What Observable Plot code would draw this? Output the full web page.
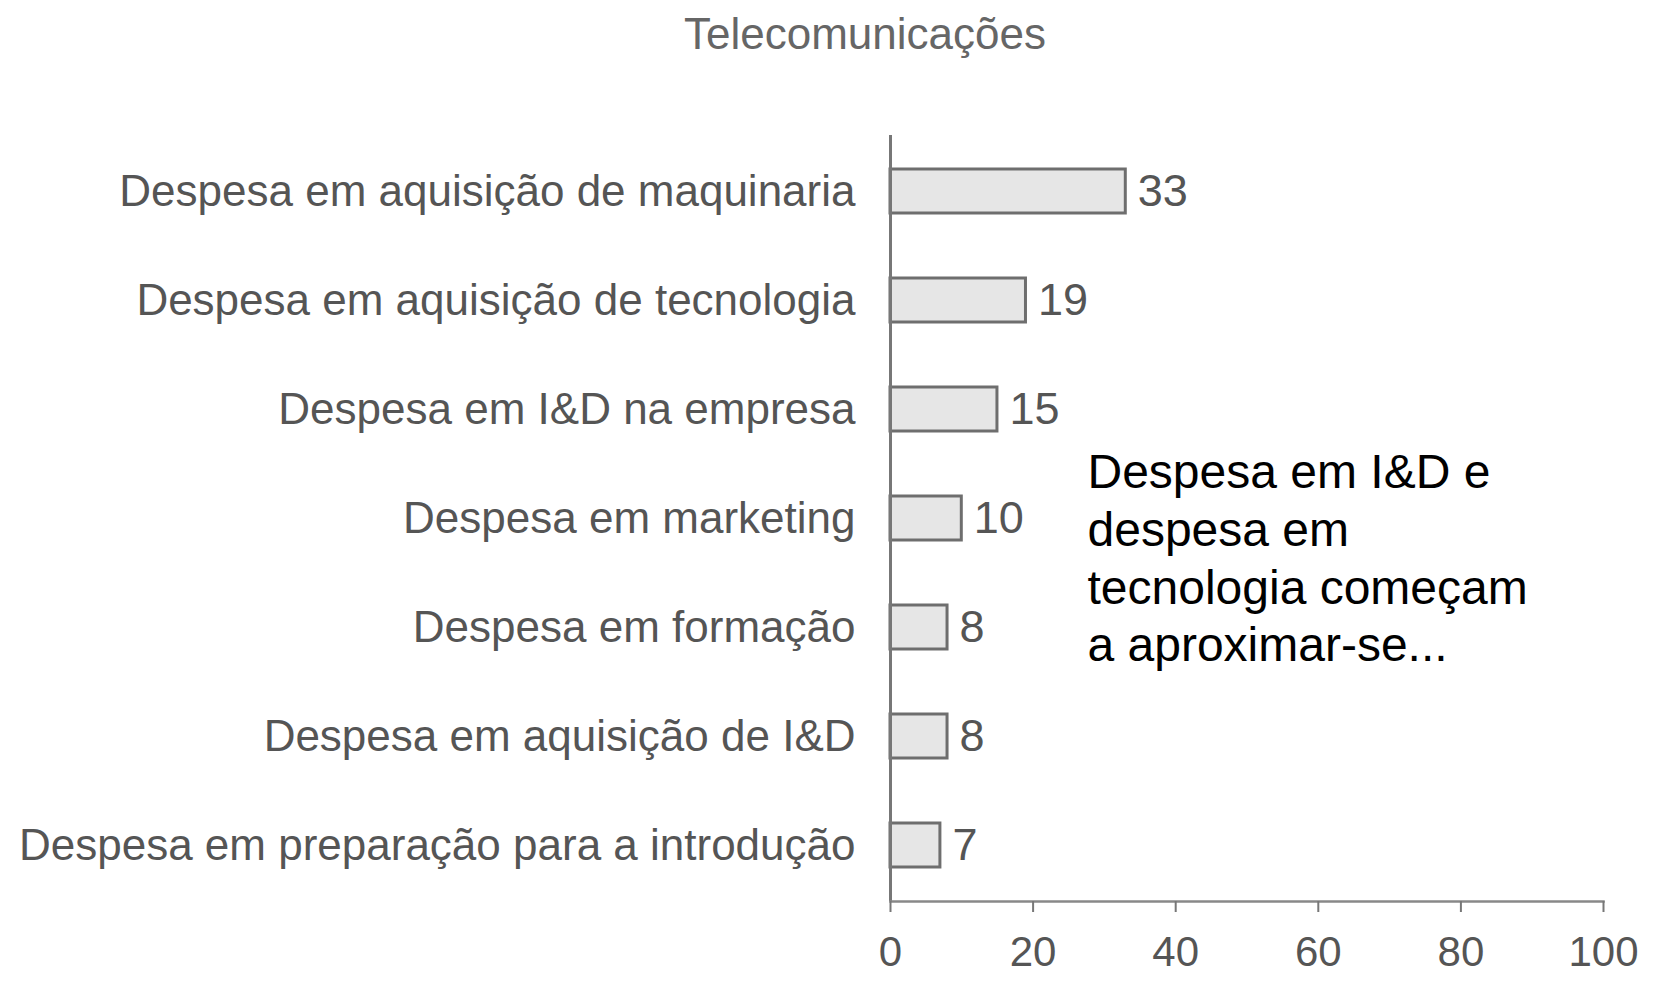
<!DOCTYPE html>
<html>
<head>
<meta charset="utf-8">
<script src="https://cdn.jsdelivr.net/npm/d3@7"></script>
<script src="https://cdn.jsdelivr.net/npm/@observablehq/plot@0.6"></script>
<style>
  html, body { margin: 0; padding: 0; background: #fff; }
  #wrap { position: relative; width: 1659px; height: 983px; overflow: hidden; }
  #title { position: absolute; left: 865px; top: 8px; transform: translateX(-50%);
           font-family: "Liberation Sans", Arial, sans-serif; font-size: 44px; line-height: 52px;
           color: #666; white-space: nowrap; }
  #chart { position: absolute; left: 0; top: 0; }
</style>
</head>
<body>
<div id="wrap">
  <div id="chart"></div>
  <div id="title">Telecomunicações</div>
</div>
<script>
const title = "Telecomunicações";
const categories = [
  "Despesa em aquisição de maquinaria",
  "Despesa em aquisição de tecnologia",
  "Despesa em I&D na empresa",
  "Despesa em marketing",
  "Despesa em formação",
  "Despesa em aquisição de I&D",
  "Despesa em preparação para a introdução"
];
const values = [33, 19, 15, 10, 8, 8, 7];
const xTicks = [0, 20, 40, 60, 80, 100];
const note = "Despesa em I&D e\ndespesa em\ntecnologia começam\na aproximar-se...";

const data = categories.map((c, i) => ({category: c, value: values[i]}));

const chart = Plot.plot({
  width: 1659,
  height: 983,
  marginLeft: 890,
  marginRight: 56,
  marginTop: 135,
  marginBottom: 82,
  style: {fontFamily: "'Liberation Sans', Arial, sans-serif", background: "white", overflow: "visible"},
  x: {domain: [0, 100], ticks: xTicks},
  y: {domain: categories, paddingInner: 0.6, paddingOuter: 0.3},
  marks: [
    Plot.barX(data, {x: "value", y: "category", fill: "#e6e6e6", stroke: "#6e6e6e", strokeWidth: 3}),
    Plot.text(data, {x: "value", y: "category", text: d => String(d.value), textAnchor: "start", dx: 12, fontSize: 45, fill: "#555"}),
    Plot.ruleX([0], {stroke: "#777", strokeWidth: 3}),
    Plot.frame({anchor: "bottom", stroke: "#888", strokeWidth: 2.5}),
    Plot.axisX({ticks: xTicks, tickSize: 11, tickPadding: 24, fontSize: 42, stroke: "#777", strokeWidth: 2, fill: "#555", label: null}),
    Plot.axisY({tickSize: 0, tickPadding: 35, fontSize: 44, fill: "#555", label: null}),
    Plot.text([note], {frameAnchor: "top-left", dx: 197, dy: 312, lineAnchor: "top", textAnchor: "start", fontSize: 48, lineHeight: 1.2, fill: "#000"})
  ]
});
document.getElementById("chart").appendChild(chart);
</script>
</body>
</html>
